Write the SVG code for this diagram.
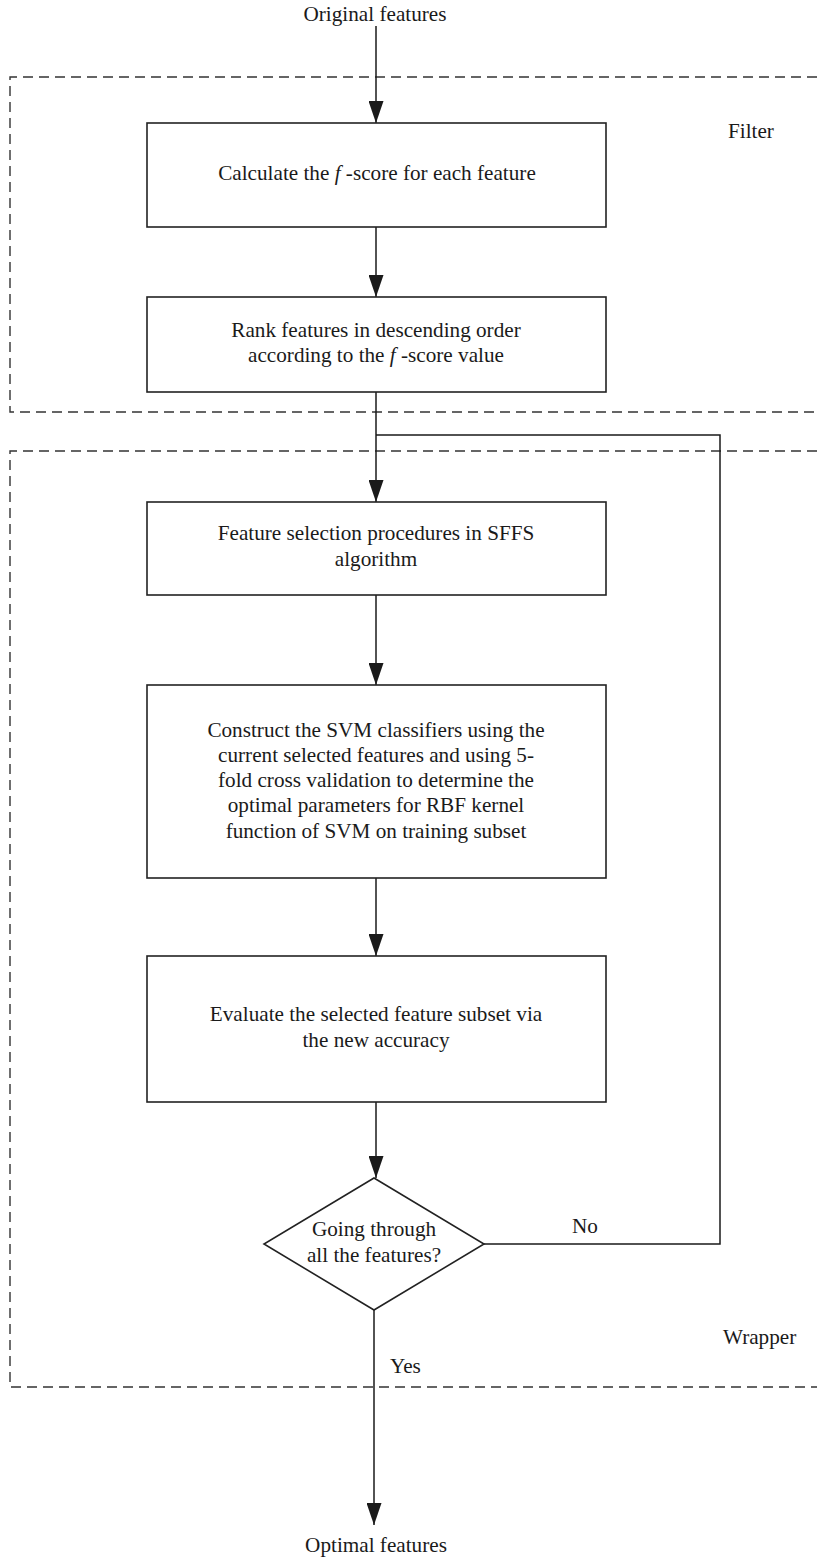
<svg xmlns="http://www.w3.org/2000/svg" width="817" height="1557" viewBox="0 0 817 1557">
<style>
.t{font-family:"Liberation Serif","Times New Roman",serif;font-size:21.2px;fill:#1a1a1a;text-anchor:middle}
.l{font-family:"Liberation Serif","Times New Roman",serif;font-size:21.2px;fill:#1a1a1a}
.box{fill:#fff;stroke:#222;stroke-width:1.6}
.c{fill:none;stroke:#1a1a1a;stroke-width:1.5}
.d{fill:none;stroke:#333;stroke-width:1.4;stroke-dasharray:10 6}
.i{font-style:italic}
</style>
<defs>
<marker id="ah" markerUnits="userSpaceOnUse" markerWidth="22" markerHeight="15" viewBox="0 0 22 15" refX="22" refY="7.5" orient="auto">
<path d="M0,0 L22,7.5 L0,15 z" fill="#1a1a1a"/>
</marker>
</defs>
<g id="regions">
<path class="d" d="M817,77 H10 V412 H817"/>
<path class="d" d="M817,451 H10 V1387 H817"/>
<text class="l" x="728" y="138">Filter</text>
<text class="l" x="723" y="1344">Wrapper</text>
</g>
<g id="connectors">
<path class="c" d="M376,26 V123" marker-end="url(#ah)"/>
<path class="c" d="M376,227 V297" marker-end="url(#ah)"/>
<path class="c" d="M376,392 V502" marker-end="url(#ah)"/>
<path class="c" d="M484,1244 H720 V435 H376"/>
<path class="c" d="M376,595 V685" marker-end="url(#ah)"/>
<path class="c" d="M376,878 V956" marker-end="url(#ah)"/>
<path class="c" d="M376,1102 V1178" marker-end="url(#ah)"/>
<path class="c" d="M374,1310 V1525" marker-end="url(#ah)"/>
<text class="l" x="572" y="1233">No</text>
<text class="l" x="390" y="1373">Yes</text>
</g>
<g id="start"><text class="t" x="375" y="21">Original features</text></g>
<g id="n1">
<rect class="box" x="147" y="123" width="459" height="104"/>
<text class="t" x="377" y="180">Calculate the <tspan class="i">f</tspan> -score for each feature</text>
</g>
<g id="n2">
<rect class="box" x="147" y="297" width="459" height="95"/>
<text class="t" x="376" y="337">Rank features in descending order</text>
<text class="t" x="376" y="362">according to the <tspan class="i">f</tspan> -score value</text>
</g>
<g id="n3">
<rect class="box" x="147" y="502" width="459" height="93"/>
<text class="t" x="376" y="540">Feature selection procedures in SFFS</text>
<text class="t" x="376" y="566">algorithm</text>
</g>
<g id="n4">
<rect class="box" x="147" y="685" width="459" height="193"/>
<text class="t" x="376" y="737">Construct the SVM classifiers using the</text>
<text class="t" x="376" y="762">current selected features and using 5-</text>
<text class="t" x="376" y="787">fold cross validation to determine the</text>
<text class="t" x="376" y="812">optimal parameters for RBF kernel</text>
<text class="t" x="376" y="838">function of SVM on training subset</text>
</g>
<g id="n5">
<rect class="box" x="147" y="956" width="459" height="146"/>
<text class="t" x="376" y="1021">Evaluate the selected feature subset via</text>
<text class="t" x="376" y="1047">the new accuracy</text>
</g>
<g id="decision">
<polygon class="box" points="374,1178 484,1244 374,1310 264,1244"/>
<text class="t" x="374" y="1236">Going through</text>
<text class="t" x="374" y="1262">all the features?</text>
</g>
<g id="end"><text class="t" x="376" y="1552">Optimal features</text></g>
</svg>
